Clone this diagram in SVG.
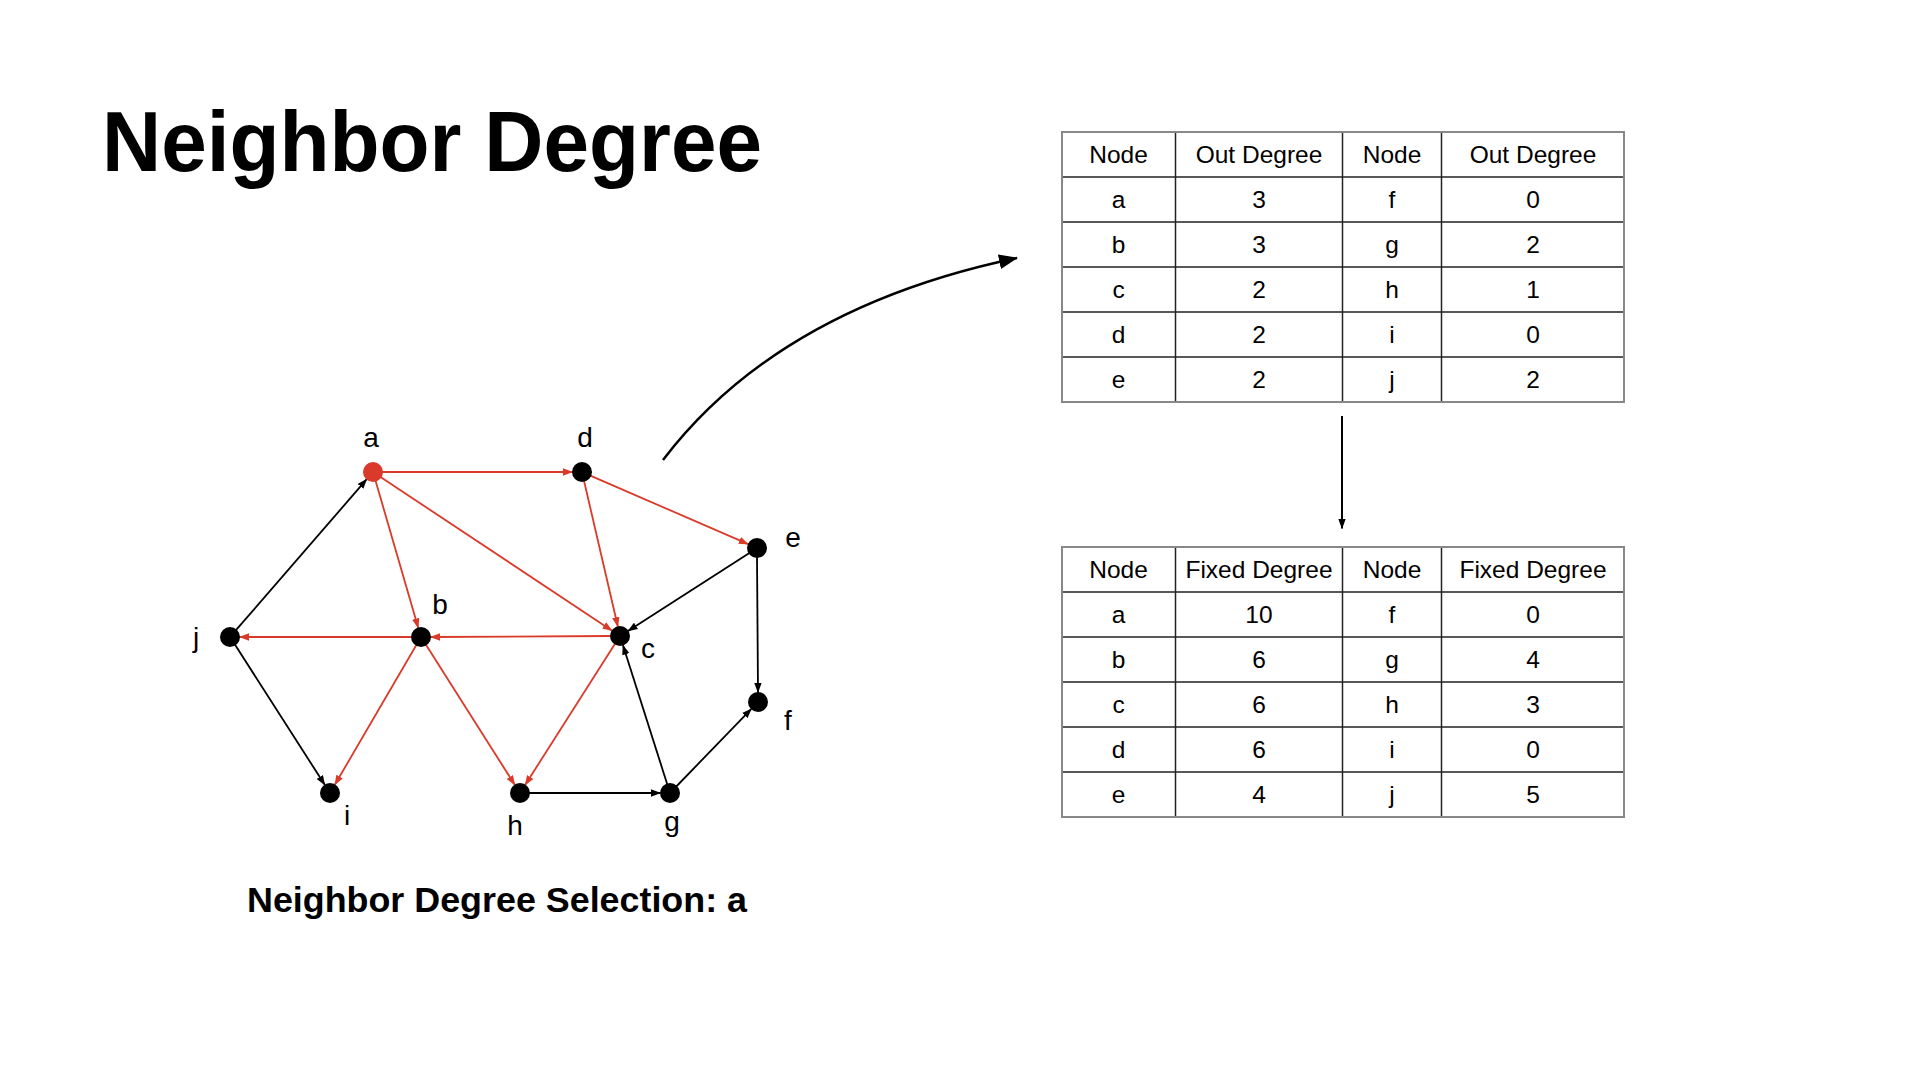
<svg xmlns="http://www.w3.org/2000/svg" width="1920" height="1080" viewBox="0 0 1920 1080">
<style>
.title{font-family:"Liberation Sans",Arial,Helvetica,sans-serif;font-weight:bold;fill:#000}
.lbl{font-family:"Liberation Sans",Arial,Helvetica,sans-serif;font-size:28px;fill:#000;text-anchor:middle}
.cell{font-family:"Liberation Sans",Arial,Helvetica,sans-serif;font-size:24.5px;fill:#000;text-anchor:middle}
.red{stroke:#DA3A29;stroke-width:1.8;fill:none;marker-end:url(#ar)}
.blk{stroke:#000;stroke-width:1.8;fill:none;marker-end:url(#ab)}
.node{fill:#000}
.grid{stroke:#222;stroke-width:1.5;fill:none}
.frame{stroke:#888;stroke-width:2;fill:none}
</style>
<defs>
<marker id="ar" markerUnits="userSpaceOnUse" markerWidth="10" markerHeight="8" refX="9.5" refY="4" orient="auto"><path d="M0,0.3 L10,4 L0,7.7 z" fill="#DA3A29"/></marker>
<marker id="ab" markerUnits="userSpaceOnUse" markerWidth="10" markerHeight="8" refX="9.5" refY="4" orient="auto"><path d="M0,0.3 L10,4 L0,7.7 z" fill="#000"/></marker>
<marker id="big" markerUnits="userSpaceOnUse" markerWidth="19" markerHeight="16" refX="18" refY="8" orient="auto"><path d="M0,0.5 L19,8 L0,15.5 z" fill="#000"/></marker>
</defs>
<rect width="1920" height="1080" fill="#fff"/>
<text class="title" x="102" y="171" font-size="86" textLength="660" lengthAdjust="spacingAndGlyphs">Neighbor Degree</text>
<text class="title" x="247" y="912" font-size="35" textLength="500" lengthAdjust="spacingAndGlyphs">Neighbor Degree Selection: a</text>

<g id="connectors">
<line class="red" x1="382" y1="472" x2="572.5" y2="472"/>
<line class="red" x1="375.5" y1="480.6" x2="418.3" y2="627.9"/>
<line class="red" x1="380.5" y1="477" x2="612.1" y2="630.7"/>
<line class="red" x1="590.3" y1="475.6" x2="748.3" y2="544.2"/>
<line class="red" x1="584" y1="480.8" x2="617.9" y2="626.7"/>
<line class="red" x1="611" y1="636" x2="430.5" y2="637"/>
<line class="red" x1="412" y1="637" x2="239.5" y2="637"/>
<line class="red" x1="416.5" y1="644.8" x2="334.8" y2="784.8"/>
<line class="red" x1="425.8" y1="644.6" x2="514.9" y2="785"/>
<line class="red" x1="615.2" y1="643.6" x2="525.1" y2="785"/>
<line class="blk" x1="235.9" y1="630.2" x2="366.8" y2="479.2"/>
<line class="blk" x1="234.9" y1="644.6" x2="324.9" y2="785"/>
<line class="blk" x1="749.4" y1="552.9" x2="628" y2="630.9"/>
<line class="blk" x1="757" y1="557" x2="758" y2="692.5"/>
<line class="blk" x1="529" y1="793" x2="660.5" y2="793"/>
<line class="blk" x1="667.3" y1="784.4" x2="622.9" y2="645.1"/>
<line class="blk" x1="676.3" y1="786.5" x2="751.4" y2="708.8"/>
<path d="M663,460 Q779,308 1017,258" stroke="#000" stroke-width="2.5" fill="none" marker-end="url(#big)"/>
<line x1="1342" y1="416" x2="1342" y2="528.5" stroke="#000" stroke-width="2" marker-end="url(#ab)"/>
</g>

<g id="node-a"><circle cx="373" cy="472" r="10" fill="#DA3A29"/><text class="lbl" x="371" y="447">a</text></g>
<g id="node-d"><circle class="node" cx="582" cy="472" r="10"/><text class="lbl" x="585" y="447">d</text></g>
<g id="node-e"><circle class="node" cx="757" cy="548" r="10"/><text class="lbl" x="793" y="547">e</text></g>
<g id="node-j"><circle class="node" cx="230" cy="637" r="10"/><text class="lbl" x="196" y="647">j</text></g>
<g id="node-b"><circle class="node" cx="421" cy="637" r="10"/><text class="lbl" x="440" y="614">b</text></g>
<g id="node-c"><circle class="node" cx="620" cy="636" r="10"/><text class="lbl" x="648" y="658">c</text></g>
<g id="node-f"><circle class="node" cx="758" cy="702" r="10"/><text class="lbl" x="788" y="730">f</text></g>
<g id="node-i"><circle class="node" cx="330" cy="793" r="10"/><text class="lbl" x="347" y="825">i</text></g>
<g id="node-h"><circle class="node" cx="520" cy="793" r="10"/><text class="lbl" x="515" y="835">h</text></g>
<g id="node-g"><circle class="node" cx="670" cy="793" r="10"/><text class="lbl" x="672" y="831">g</text></g>

<g id="table-out-degree">
<path class="grid" d="M1062,177H1624M1062,222H1624M1062,267H1624M1062,312H1624M1062,357H1624M1175.5,132V402M1342.5,132V402M1441.5,132V402"/>
<rect class="frame" x="1062" y="132" width="562" height="270"/>
<g class="cell">
<text x="1118.5" y="163.2">Node</text><text x="1259" y="163.2">Out Degree</text><text x="1392" y="163.2">Node</text><text x="1533" y="163.2">Out Degree</text>
<text x="1118.5" y="208.2">a</text><text x="1259" y="208.2">3</text><text x="1392" y="208.2">f</text><text x="1533" y="208.2">0</text>
<text x="1118.5" y="253.2">b</text><text x="1259" y="253.2">3</text><text x="1392" y="253.2">g</text><text x="1533" y="253.2">2</text>
<text x="1118.5" y="298.2">c</text><text x="1259" y="298.2">2</text><text x="1392" y="298.2">h</text><text x="1533" y="298.2">1</text>
<text x="1118.5" y="343.2">d</text><text x="1259" y="343.2">2</text><text x="1392" y="343.2">i</text><text x="1533" y="343.2">0</text>
<text x="1118.5" y="388.2">e</text><text x="1259" y="388.2">2</text><text x="1392" y="388.2">j</text><text x="1533" y="388.2">2</text>
</g>
</g>

<g id="table-fixed-degree">
<path class="grid" d="M1062,592H1624M1062,637H1624M1062,682H1624M1062,727H1624M1062,772H1624M1175.5,547V817M1342.5,547V817M1441.5,547V817"/>
<rect class="frame" x="1062" y="547" width="562" height="270"/>
<g class="cell">
<text x="1118.5" y="578.2">Node</text><text x="1259" y="578.2">Fixed Degree</text><text x="1392" y="578.2">Node</text><text x="1533" y="578.2">Fixed Degree</text>
<text x="1118.5" y="623.2">a</text><text x="1259" y="623.2">10</text><text x="1392" y="623.2">f</text><text x="1533" y="623.2">0</text>
<text x="1118.5" y="668.2">b</text><text x="1259" y="668.2">6</text><text x="1392" y="668.2">g</text><text x="1533" y="668.2">4</text>
<text x="1118.5" y="713.2">c</text><text x="1259" y="713.2">6</text><text x="1392" y="713.2">h</text><text x="1533" y="713.2">3</text>
<text x="1118.5" y="758.2">d</text><text x="1259" y="758.2">6</text><text x="1392" y="758.2">i</text><text x="1533" y="758.2">0</text>
<text x="1118.5" y="803.2">e</text><text x="1259" y="803.2">4</text><text x="1392" y="803.2">j</text><text x="1533" y="803.2">5</text>
</g>
</g>
</svg>
